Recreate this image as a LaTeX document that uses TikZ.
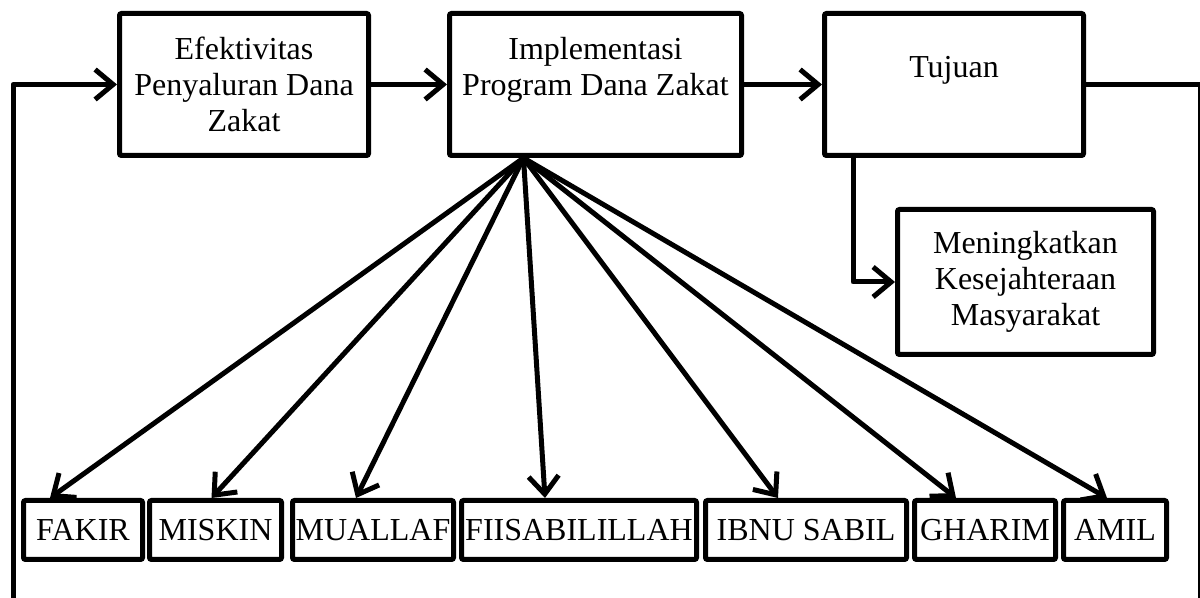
\documentclass[tikz,border=0pt]{standalone}
\usepackage{fontspec}
\setmainfont{Liberation Serif}
\usetikzlibrary{arrows.meta}

\tikzset{
  box/.style={draw, line width=2.5pt, rounded corners=1pt, align=center, inner sep=0pt,
    font=\fontsize{16pt}{18pt}\selectfont},
  >={Straight Barb[length=9pt,width=15pt]},
  link/.style={->, line width=2.5pt, line join=round}
}

\begin{document}
\begin{tikzpicture}[x=0.5pt, y=-0.5pt]
  \useasboundingbox (0,0) rectangle (1200,598);

  % top row
  \node[box, minimum width=124.5pt, minimum height=71pt] (efek) at (244,84.5) {Efektivitas\\Penyaluran Dana\\Zakat};
  \node[box, minimum width=146pt, minimum height=71pt] (impl) at (595.5,84.5) {Implementasi\\Program Dana Zakat\\\mbox{}};
  \node[box, minimum width=129.5pt, minimum height=71pt] (tujuan) at (954,84.5) {Tujuan\\\mbox{}};
  \node[box, minimum width=128pt, minimum height=72.5pt] (sejahtera) at (1025.5,282) {Meningkatkan\\Kesejahteraan\\Masyarakat};

  % asnaf
  \node[box, minimum width=59.5pt, minimum height=29.5pt] (fakir) at (83,530) {FAKIR};
  \node[box, minimum width=66pt, minimum height=29.5pt] (miskin) at (215.5,530) {MISKIN};
  \node[box, minimum width=80.5pt, minimum height=29.5pt] (muallaf) at (373,530) {MUALLAF};
  \node[box, minimum width=117.5pt, minimum height=29.5pt] (fiis) at (579,530) {FIISABILILLAH};
  \node[box, minimum width=100.5pt, minimum height=29.5pt] (ibnu) at (806,530) {IBNU SABIL};
  \node[box, minimum width=70.5pt, minimum height=29.5pt] (gharim) at (985,530) {GHARIM};
  \node[box, minimum width=51.5pt, minimum height=29.5pt] (amil) at (1115,530) {AMIL};

  \draw[link] (efek.east) -- (impl.west);
  \draw[link] (impl.east) -- (tujuan.west);
  \draw[link] ([xshift=-50.5pt]tujuan.south) |- (sejahtera.west);

  % feedback loop, bottom runs below the page
  \coordinate (loopR) at (1200,640);
  \coordinate (loopL) at (13,640);
  \draw[link] (tujuan.east) -| (loopR) -- (loopL) |- (efek.west);

  \coordinate (hub) at ([xshift=-36pt]impl.south);
  \foreach \name/\dx in {fakir/-16.5, miskin/-2, muallaf/-8.5, fiis/-17, ibnu/-14, gharim/-14.5, amil/-4}
    \draw[link] (hub) -- ([xshift=\dx pt]\name.north);
\end{tikzpicture}
\end{document}
